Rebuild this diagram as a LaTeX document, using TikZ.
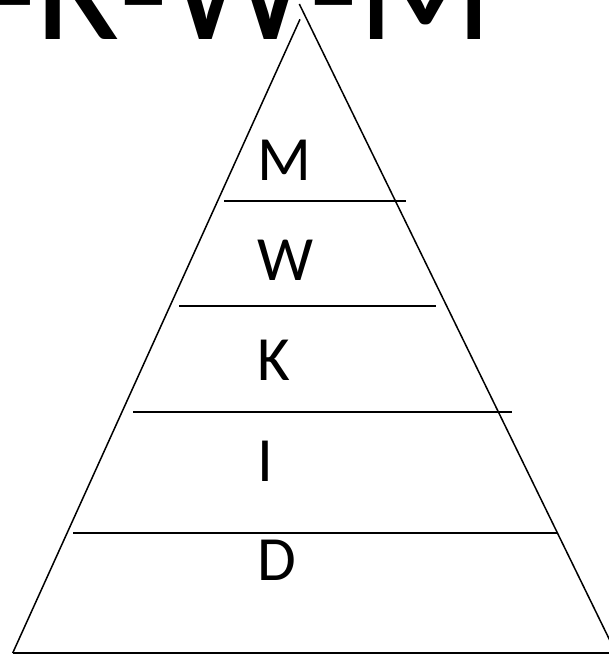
\documentclass[tikz,border=0pt]{standalone}
\usepackage{fontspec}
\setmainfont{Carlito}
\usetikzlibrary{positioning}
\newcommand{\guionbajo}{\raisebox{-5pt}{-}}
\tikzset{
  borde/.style={draw=black,line width=1.5pt},
  nivel/.style={draw=black,line width=1.9pt},
  letra/.style={font=\fontsize{63}{70}\selectfont,inner sep=0pt,anchor=base west},
  titulo/.style={font=\fontsize{159}{170}\selectfont,inner sep=0pt,anchor=base east},
}
\begin{document}
\begin{tikzpicture}[x=1pt,y=-1pt]
  \useasboundingbox (0,0) rectangle (609,656);
  \clip (0,0) rectangle (609,656);
  \node[titulo] (cabecera) at (494,39.5) {D\guionbajo I\guionbajo K\guionbajo W\guionbajo M};
  % piramide
  \coordinate (baseizq) at (12.7,653);
  \coordinate (baseder) at (616,653);
  \coordinate (cimaizq) at (300,19.3);
  \coordinate (cimader) at (299.3,4);
  \draw[borde] (baseizq) -- (cimaizq);
  \draw[borde] (cimader) -- (baseder);
  \draw[borde] (baseizq) -- (baseder);
  % niveles
  \foreach \y/\a/\b in {200.7/224/406, 305.7/179/436, 412/133/512, 533.3/73/557}
    \draw[nivel] (\a,\y) -- (\b,\y);
  \foreach \l/\y in {M/180,W/280,K/380,I/481.5,D/580}
    \node[letra] (\l) at (257,\y) {\l};
\end{tikzpicture}
\end{document}
